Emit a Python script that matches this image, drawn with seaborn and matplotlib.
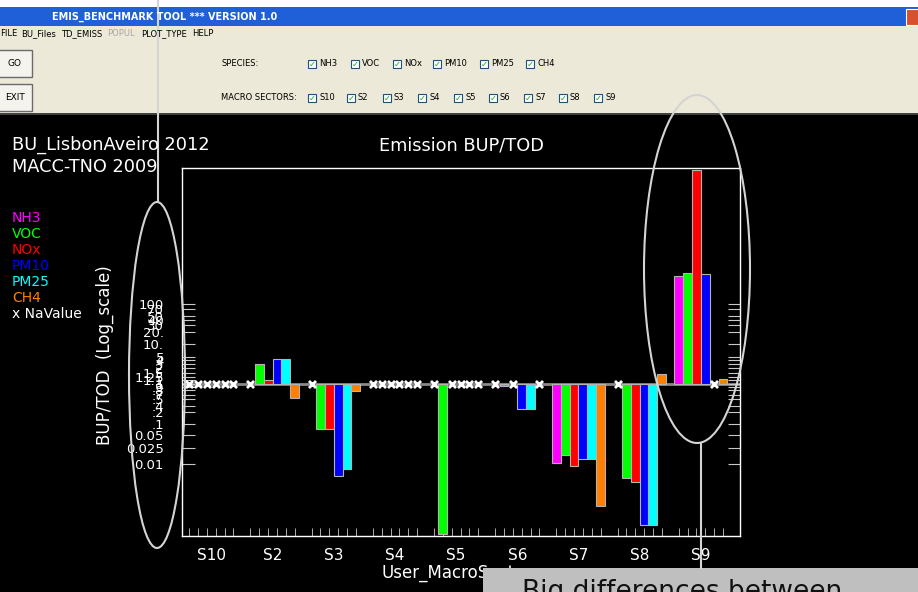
import numpy as np
import pandas as pd
import seaborn as sns
import matplotlib.pyplot as plt
from matplotlib.patches import Rectangle, Ellipse

nan = np.nan

# sectors and species of the benchmark
sectors = ["S10", "S2", "S3", "S4", "S5", "S6", "S7", "S8", "S9"]
species = ["NH3", "VOC", "NOx", "PM10", "PM25", "CH4"]
colors = ["#ff00ff", "#00ff00", "#ff0000", "#0000ff", "#00ffff", "#ff8000"]

# BUP/TOD per sector in the plot's log-scale units (0 = ratio 1), nan = no value
nh3 = [nan, nan, nan, nan, nan, nan, -79, nan, 108]
voc = [nan, 19.4, -45, nan, -150, -2.5, -71, -94, 110.7]
nox = [nan, 3.7, -45, nan, nan, nan, -82, -98, 214]
pm10 = [nan, 25, -92, nan, nan, -25.5, -75, -141, 110]
pm25 = [nan, 24.4, -85, nan, nan, -25, -75.5, -141, nan]
ch4 = [nan, -14.6, -7.6, nan, nan, nan, -122, 9.7, 4.4]

# y ticks of the log scale (labels overlap in the original tool)
ytick_labels = ["100", "70", "50", "40", "30", "20.", "10.", "5", "4", "3", "2",
                "1.5", "1.25", "1.1", "1", ".9", ".8", ".7", ".5", ".4", ".2",
                ".1", "0.05", "0.025", "0.01"]
ytick_pos = [80, 75, 68, 64, 59, 52, 40, 27, 24, 20, 16, 11, 7, 4, 0, -3, -6,
             -11, -15, -22, -28, -40, -51, -64, -80]

rows = []
for sp, vals in zip(species, [nh3, voc, nox, pm10, pm25, ch4]):
    for sec, v in zip(sectors, vals):
        rows.append((sec, sp, v))
df = pd.DataFrame(rows, columns=["sector", "species", "bup_tod"])
df["height"] = df["bup_tod"].fillna(0)

fig = plt.figure(figsize=(9.18, 5.92), dpi=100, facecolor="black")
ax = fig.add_axes([182 / 918, 56 / 592, 558 / 918, 368.5 / 592])
ax.set_facecolor("black")

ax.axhline(0, color="#8a8a8a", lw=2, zorder=1)
sns.barplot(data=df, x="sector", y="height", hue="species", order=sectors,
            hue_order=species, palette=colors, saturation=1, width=0.866,
            errorbar=None, edgecolor="#b4b4b4", linewidth=0.8, legend=False,
            ax=ax, zorder=2)

# hide empty bars and mark them with an x on the baseline
missing = df.set_index(["species", "sector"])["bup_tod"].isna()
centers, nx = [], []
for sp, cont in zip(species, ax.containers):
    for bar in cont:
        xc = bar.get_x() + bar.get_width() / 2
        centers.append(xc)
        if missing[(sp, sectors[int(round(xc))])]:
            bar.set_visible(False)
            nx.append(xc)
ax.scatter(nx, np.zeros(len(nx)), marker="x", s=26, color="white",
           linewidths=2, zorder=4)

ax.set_xlim(-0.48, 8.64)
ax.set_ylim(-152.3, 216.3)
ax.set_xticks(range(len(sectors)), sectors)
ax.set_xticks(sorted(centers), minor=True)
ax.set_yticks(ytick_pos, ytick_labels)
ax.tick_params(axis="x", which="major", length=0, colors="white", labelsize=11, pad=9)
ax.tick_params(axis="x", which="minor", direction="in", length=6, color="#c8c8c8")
ax.tick_params(axis="y", direction="in", length=9, left=True, right=True,
               color="#c8c8c8", labelcolor="white", labelsize=9.5, pad=13)
for s in ax.spines.values():
    s.set_color("white")
    s.set_linewidth(1)

ax.set_title("Emission BUP/TOD", color="white", fontsize=12.8, pad=12)
ax.set_ylabel("BUP/TOD  (Log_scale)", color="white", fontsize=12)
ax.yaxis.set_label_coords(-0.122, 0.49)
ax.set_xlabel("User_MacroSectors", color="white", fontsize=12)
ax.xaxis.set_label_coords(0.5, -0.075)

# overlay in pixel coordinates: GUI frame, texts and annotations
ov = fig.add_axes([0, 0, 1, 1], zorder=5)
ov.set_xlim(0, 918)
ov.set_ylim(592, 0)
ov.axis("off")

ov.add_patch(Rectangle((0, 0), 918, 114, fc="#ece9d8", ec="none"))
ov.add_patch(Rectangle((0, 0), 918, 7, fc="white", ec="none"))
ov.add_patch(Rectangle((0, 7), 918, 19, fc="#1f5fd8", ec="none"))
ov.add_patch(Rectangle((906, 9), 14, 16, fc="#d8502e", ec="white", lw=0.8))
ov.add_patch(Rectangle((0, 113), 918, 2, fc="#404040", ec="none"))
ov.text(52, 17, "EMIS_BENCHMARK TOOL *** VERSION 1.0", color="white",
        fontsize=7, fontweight="bold", va="center")
menu = [("FILE", 0, "black"), ("BU_Files", 21, "black"), ("TD_EMISS", 61, "black"),
        ("POPUL", 107, "#a8a8a8"), ("PLOT_TYPE", 141, "black"), ("HELP", 192, "black")]
for txt, x, c in menu:
    ov.text(x, 34, txt, color=c, fontsize=6, va="center")
for txt, y in [("GO", 50), ("EXIT", 84)]:
    ov.add_patch(Rectangle((-2, y), 34, 27, fc="#f4f3ee", ec="#6b6b6b", lw=1))
    ov.text(15, y + 13.5, txt, fontsize=6.5, ha="center", va="center")

ov.text(221, 64, "SPECIES:", fontsize=6, va="center")
ov.text(221, 98, "MACRO SECTORS:", fontsize=6, va="center")
for txt, x in zip(species, [308, 351, 393, 433, 480, 526]):
    ov.add_patch(Rectangle((x, 60), 8, 8, fc="white", ec="#1c5180", lw=0.8))
    ov.text(x + 4, 64, "\u2713", color="#21a121", fontsize=6, ha="center", va="center")
    ov.text(x + 11, 64, txt, fontsize=6, va="center")
for txt, x in zip(sectors, [308, 347, 383, 418, 454, 489, 524, 559, 594]):
    ov.add_patch(Rectangle((x, 94), 8, 8, fc="white", ec="#1c5180", lw=0.8))
    ov.text(x + 4, 98, "\u2713", color="#21a121", fontsize=6, ha="center", va="center")
    ov.text(x + 11, 98, txt, fontsize=6, va="center")

ov.text(12, 145, "BU_LisbonAveiro 2012", color="white", fontsize=12.8, va="center")
ov.text(12, 167, "MACC-TNO 2009", color="white", fontsize=12.8, va="center")
for i, (sp, c) in enumerate(zip(species, colors)):
    ov.text(12, 218 + 16 * i, sp, color=c, fontsize=10, va="center")
ov.text(12, 314, "x NaValue", color="white", fontsize=10, va="center")

ann = "#d4d4d4"
ov.add_patch(Ellipse((157, 375), 56, 346, fill=False, ec=ann, lw=1.5))
ov.plot([158, 158], [0, 202], color=ann, lw=1.5)
ov.add_patch(Ellipse((697, 269), 106, 348, fill=False, ec=ann, lw=1.5))
ov.plot([701, 701], [443, 568], color=ann, lw=1.5)

ov.add_patch(Rectangle((483, 568), 435, 24, fc="#bfbfbf", ec="none"))
ov.text(522, 579, "Big differences between", color="#111111", fontsize=19, va="top")

fig.savefig("out.png", dpi=100, facecolor="black")
